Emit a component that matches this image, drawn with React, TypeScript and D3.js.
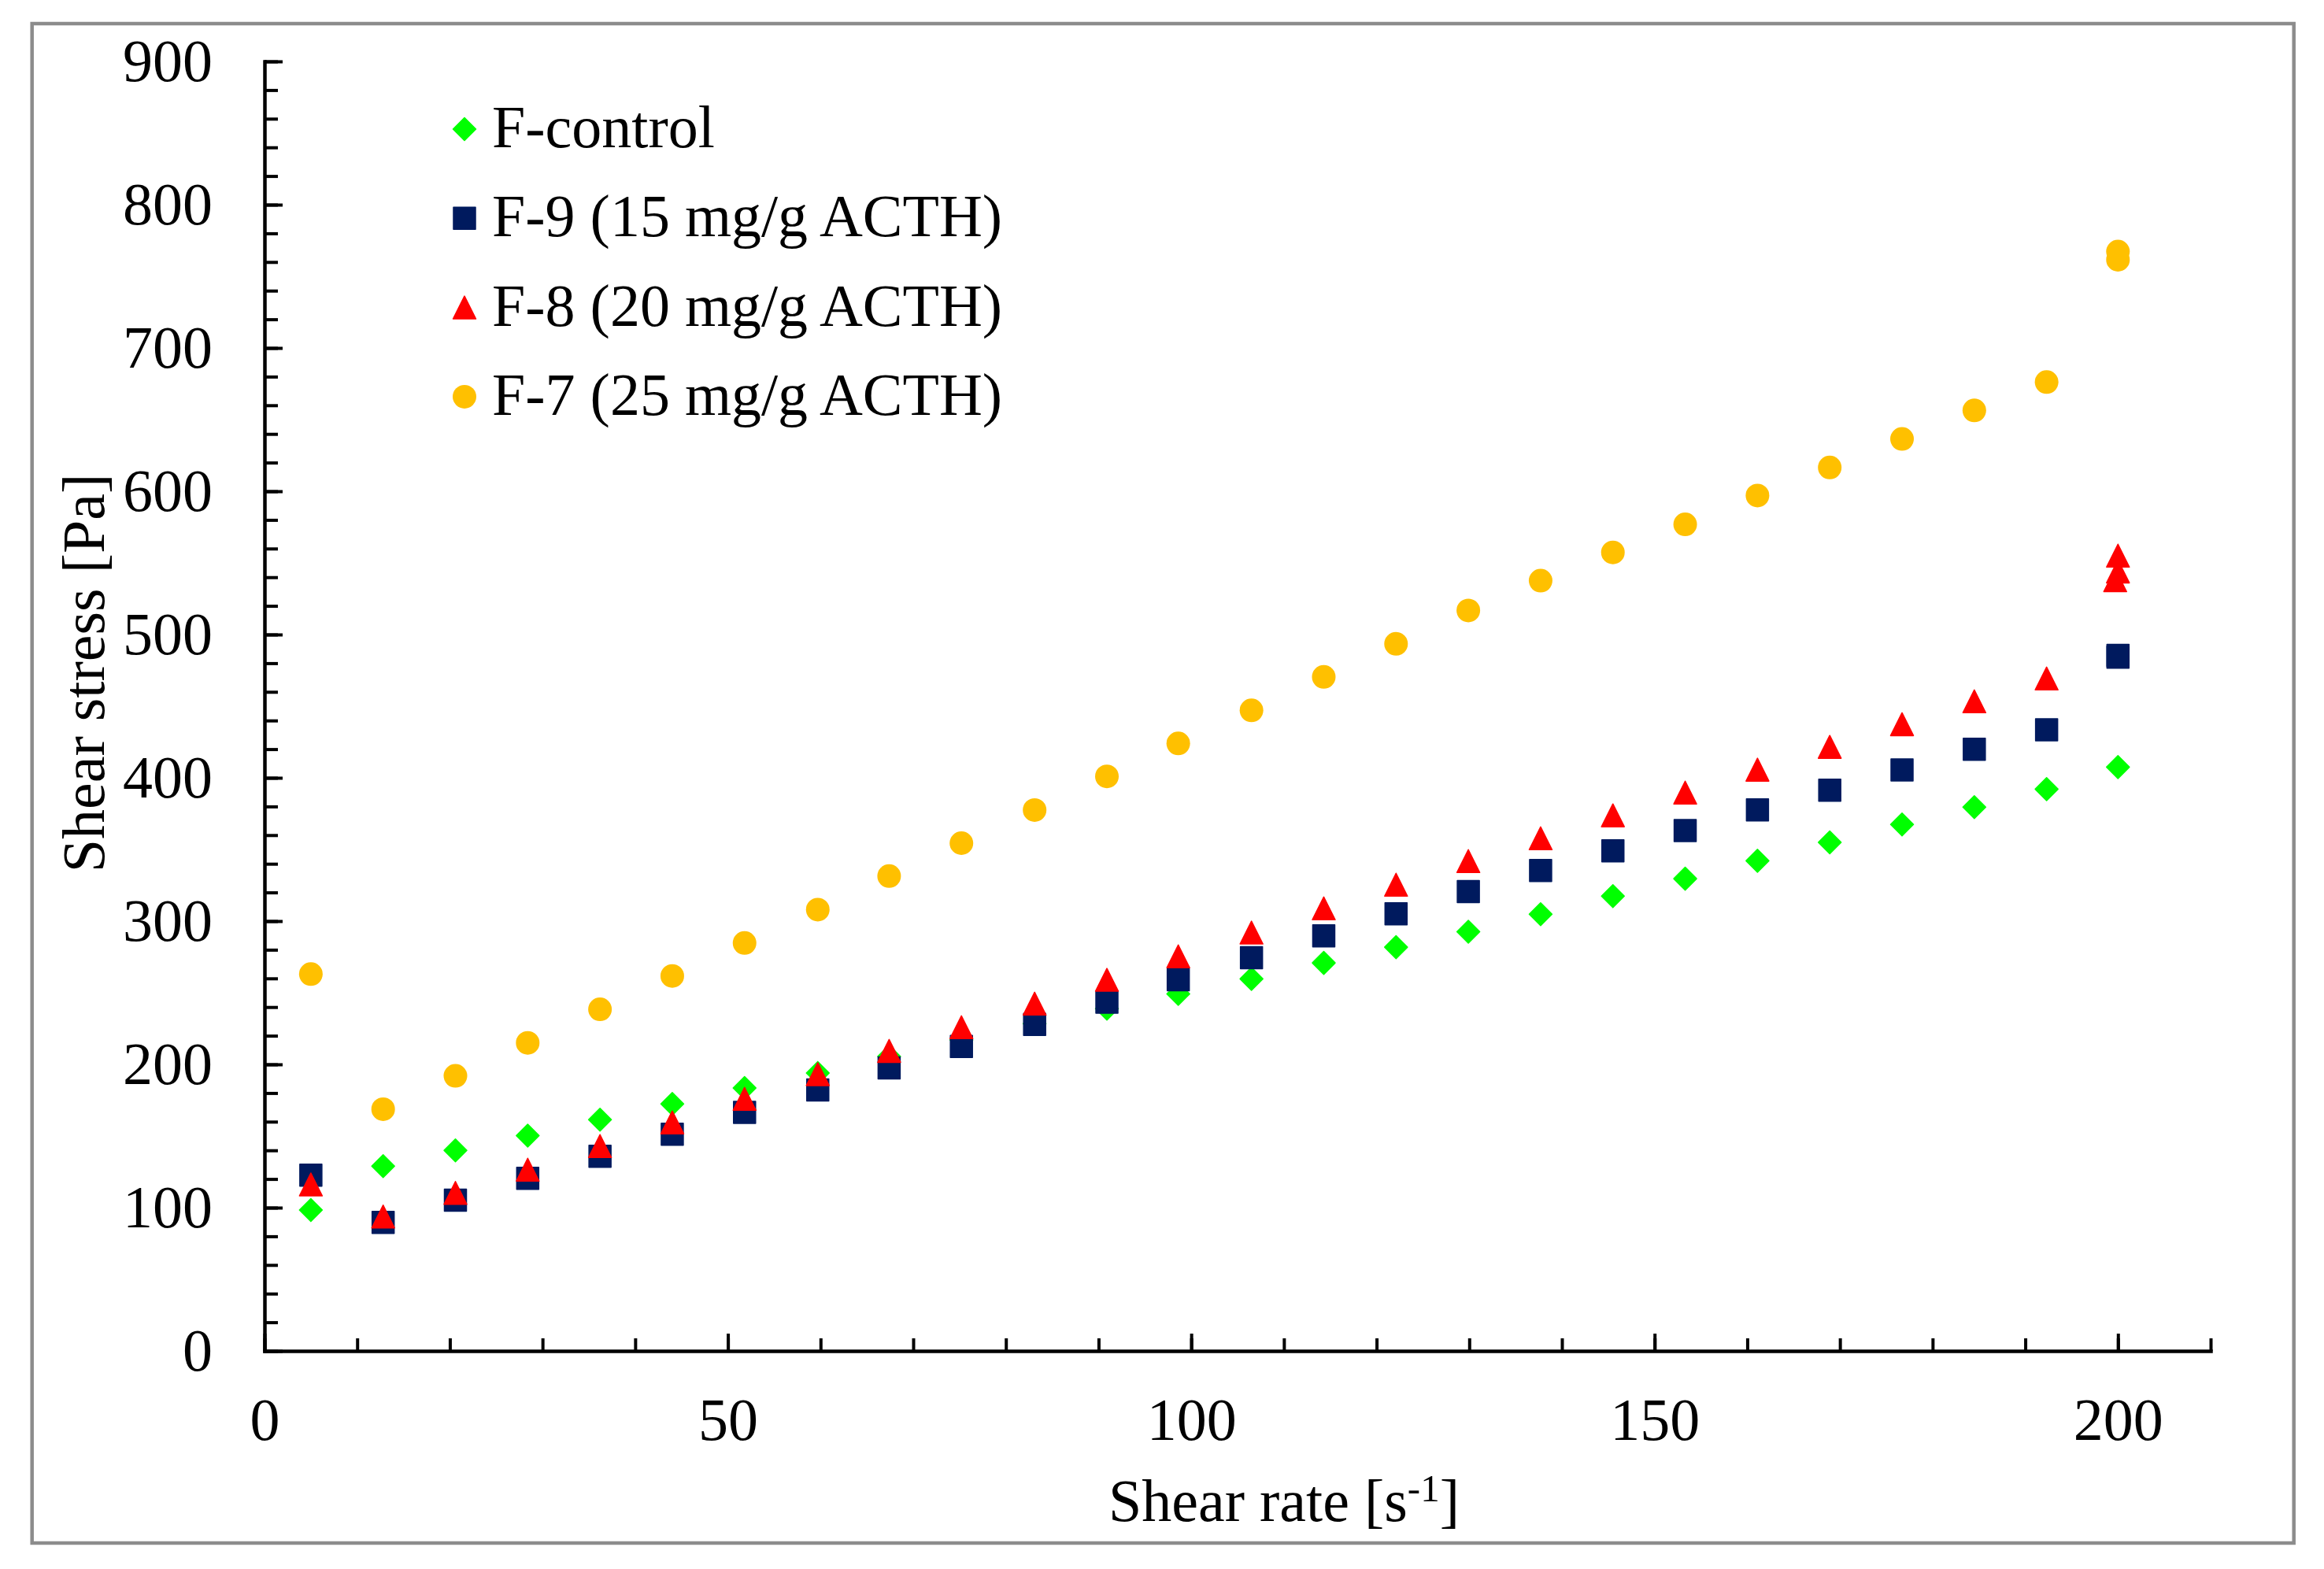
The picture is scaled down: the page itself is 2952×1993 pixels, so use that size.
import React, { useEffect, useRef } from 'react'

import * as d3 from 'd3'

// Shear rate steps [s^-1]
const shearRate = [
  5, 12.8, 20.6, 28.4, 36.2, 44, 51.8, 59.7, 67.4, 75.2, 83.1, 90.9, 98.6,
  106.5, 114.3, 122.1, 129.9, 137.7, 145.5, 153.3, 161.1, 168.9, 176.7, 184.5,
  192.3, 200,
]

// Shear stress [Pa], one value per shear rate step
const fControl = [
  98.3, 129, 140, 150.3, 161.4, 172.4, 183.5, 194, 205.5, 217, 228.4, 238.9,
  249.2, 259.7, 270.8, 281.8, 292.6, 304.8, 317.4, 329.6, 342.1, 354.9, 367.4,
  379.5, 392.1, 407.5,
]
const f9 = [
  122.6, 89.7, 105.2, 120.4, 135.8, 151.3, 166.5, 182.2, 197.5, 212.5, 227.9,
  243.4, 259, 274.5, 289.7, 305.1, 320.6, 335.3, 349, 363.2, 377.6, 391.3,
  405.5, 419.9, 433.5, 485.4,
]
const f8 = [
  116.2, 93.8, 110.3, 126.5, 143, 159.5, 175.9, 193.2, 209.4, 225.9, 242.4,
  259, 275.4, 292, 308.9, 325.4, 341.9, 357.8, 373.8, 389.7, 405.7, 421.6,
  437.4, 453.4, 469.3, 555.1,
]
const f7 = [
  263, 168.7, 192, 215, 238.4, 261.7, 284.7, 308, 331.4, 354.4, 377.5, 401,
  424, 447.1, 470.4, 493.5, 516.8, 537.6, 557.3, 576.9, 597, 616.6, 636.5,
  656.4, 676.2, 767.3,
]

// repeated readings at the end of the ramp [shear rate, stress]
const f9Repeat = [[200, 484.2]]
const f8Repeat = [
  [200, 544.0],
  [199.7, 537.9],
]
const f7Repeat = [[200, 761.6]]

const xTicks = [0, 50, 100, 150, 200]
const yTicks = [0, 100, 200, 300, 400, 500, 600, 700, 800, 900]

const font = '"Liberation Serif", "Times New Roman", serif'

// marker shapes centred on 0,0
const shapes: Record<string, string> = {
  diamond: 'M0,-14.5L14.5,0L0,14.5L-14.5,0Z',
  square: 'M-14,-14H14V14H-14Z',
  triangle: 'M0,-14.5L14.5,14.5L-14.5,14.5Z',
}

const App: React.FC = () => {
  const chartRef = useRef<SVGSVGElement | null>(null)

  useEffect(() => {
    document.body.style.margin = '0'

    const width = 2952
    const height = 1993

    const svg = d3.select(chartRef.current)
    svg.selectAll('*').remove()
    svg.attr('width', width).attr('height', height)

    svg
      .append('rect')
      .attr('width', width)
      .attr('height', height)
      .attr('fill', '#fff')

    // outer frame
    svg
      .append('rect')
      .attr('x', 40.7)
      .attr('y', 30)
      .attr('width', 2873)
      .attr('height', 1930)
      .attr('fill', 'none')
      .attr('stroke', '#8c8c8c')
      .attr('stroke-width', 4.5)

    const x = d3.scaleLinear().domain([0, 210]).range([336, 2808])
    const y = d3.scaleLinear().domain([0, 900]).range([1716, 78])

    const series = [
      {
        name: 'F-control',
        color: '#00ff00',
        shape: 'diamond',
        points: shearRate.map((s, i) => [s, fControl[i]]),
      },
      {
        name: 'F-9 (15 mg/g ACTH)',
        color: '#001a5e',
        shape: 'square',
        points: shearRate.map((s, i) => [s, f9[i]]).concat(f9Repeat),
      },
      {
        name: 'F-8 (20 mg/g ACTH)',
        color: '#ff0000',
        shape: 'triangle',
        points: shearRate.map((s, i) => [s, f8[i]]).concat(f8Repeat),
      },
      {
        name: 'F-7 (25 mg/g ACTH)',
        color: '#ffc000',
        shape: 'circle',
        points: shearRate.map((s, i) => [s, f7[i]]).concat(f7Repeat),
      },
    ]

    const drawMarker = (
      g: d3.Selection<any, any, any, any>,
      shape: string,
      color: string
    ) => {
      if (shape === 'circle') {
        g.append('circle').attr('r', 15).attr('fill', color)
      } else {
        g.append('path')
          .attr('d', shapes[shape])
          .attr('fill', color)
          .attr('stroke', color)
          .attr('stroke-width', 1.5)
          .attr('stroke-linejoin', 'round')
      }
    }

    // x axis: minor ticks every 10, major every 50
    svg
      .append('g')
      .attr('transform', `translate(0,${y(0)})`)
      .call(
        d3
          .axisBottom(x)
          .tickValues(d3.range(0, 211, 10))
          .tickSize(-16)
          .tickSizeOuter(0)
          .tickFormat(() => '')
      )
      .call((g) => g.select('.domain').remove())
      .call((g) => g.selectAll('line').attr('stroke-width', 4))

    const xAxis = svg
      .append('g')
      .attr('transform', `translate(0,${y(0)})`)
      .call(
        d3
          .axisBottom(x)
          .tickValues(xTicks)
          .tickSize(-22)
          .tickSizeOuter(0)
          .tickPadding(59)
      )
    xAxis.selectAll('line').attr('stroke-width', 4)
    xAxis
      .select('.domain')
      .attr('stroke-width', 4.5)
      .attr('stroke-linecap', 'square')
    xAxis
      .selectAll('text')
      .attr('font-family', font)
      .attr('font-size', 76)
      .attr('fill', '#000')

    // y axis: minor ticks every 20, major every 100
    svg
      .append('g')
      .attr('transform', `translate(${x(0)},0)`)
      .call(
        d3
          .axisLeft(y)
          .tickValues(d3.range(0, 901, 20))
          .tickSize(-17)
          .tickSizeOuter(0)
          .tickFormat(() => '')
      )
      .call((g) => g.select('.domain').remove())
      .call((g) => g.selectAll('line').attr('stroke-width', 4))

    const yAxis = svg
      .append('g')
      .attr('transform', `translate(${x(0)},0)`)
      .call(
        d3
          .axisLeft(y)
          .tickValues(yTicks)
          .tickSize(-23)
          .tickSizeOuter(0)
          .tickPadding(66)
      )
    yAxis.selectAll('line').attr('stroke-width', 4)
    yAxis
      .select('.domain')
      .attr('stroke-width', 4.5)
      .attr('stroke-linecap', 'square')
    yAxis
      .selectAll('text')
      .attr('font-family', font)
      .attr('font-size', 76)
      .attr('fill', '#000')

    // axis titles
    const xTitle = svg
      .append('text')
      .attr('x', 1631)
      .attr('y', 1932)
      .attr('text-anchor', 'middle')
      .attr('font-family', font)
      .attr('font-size', 76)
      .attr('fill', '#000')
    xTitle.append('tspan').text('Shear rate [s')
    xTitle.append('tspan').attr('dy', -25).attr('font-size', 49).text('-1')
    xTitle.append('tspan').attr('dy', 25).text(']')

    svg
      .append('text')
      .attr('transform', 'translate(132,855) rotate(-90)')
      .attr('text-anchor', 'middle')
      .attr('font-family', font)
      .attr('font-size', 76)
      .attr('fill', '#000')
      .text('Shear stress [Pa]')

    // scatter points
    series.forEach((s) => {
      const g = svg.append('g')
      s.points.forEach((p) => {
        const m = g
          .append('g')
          .attr('transform', `translate(${x(p[0])},${y(p[1])})`)
        drawMarker(m, s.shape, s.color)
      })
    })

    // legend
    const legend = svg.append('g')
    series.forEach((s, i) => {
      const row = legend
        .append('g')
        .attr('transform', `translate(0,${187 + i * 113.3})`)
      const m = row.append('g').attr('transform', 'translate(590,-23)')
      drawMarker(m, s.shape, s.color)
      row
        .append('text')
        .attr('x', 625)
        .attr('font-family', font)
        .attr('font-size', 76)
        .attr('fill', '#000')
        .text(s.name)
    })
  }, [])

  return <svg ref={chartRef} style={{ display: 'block' }}></svg>
}

export default App
